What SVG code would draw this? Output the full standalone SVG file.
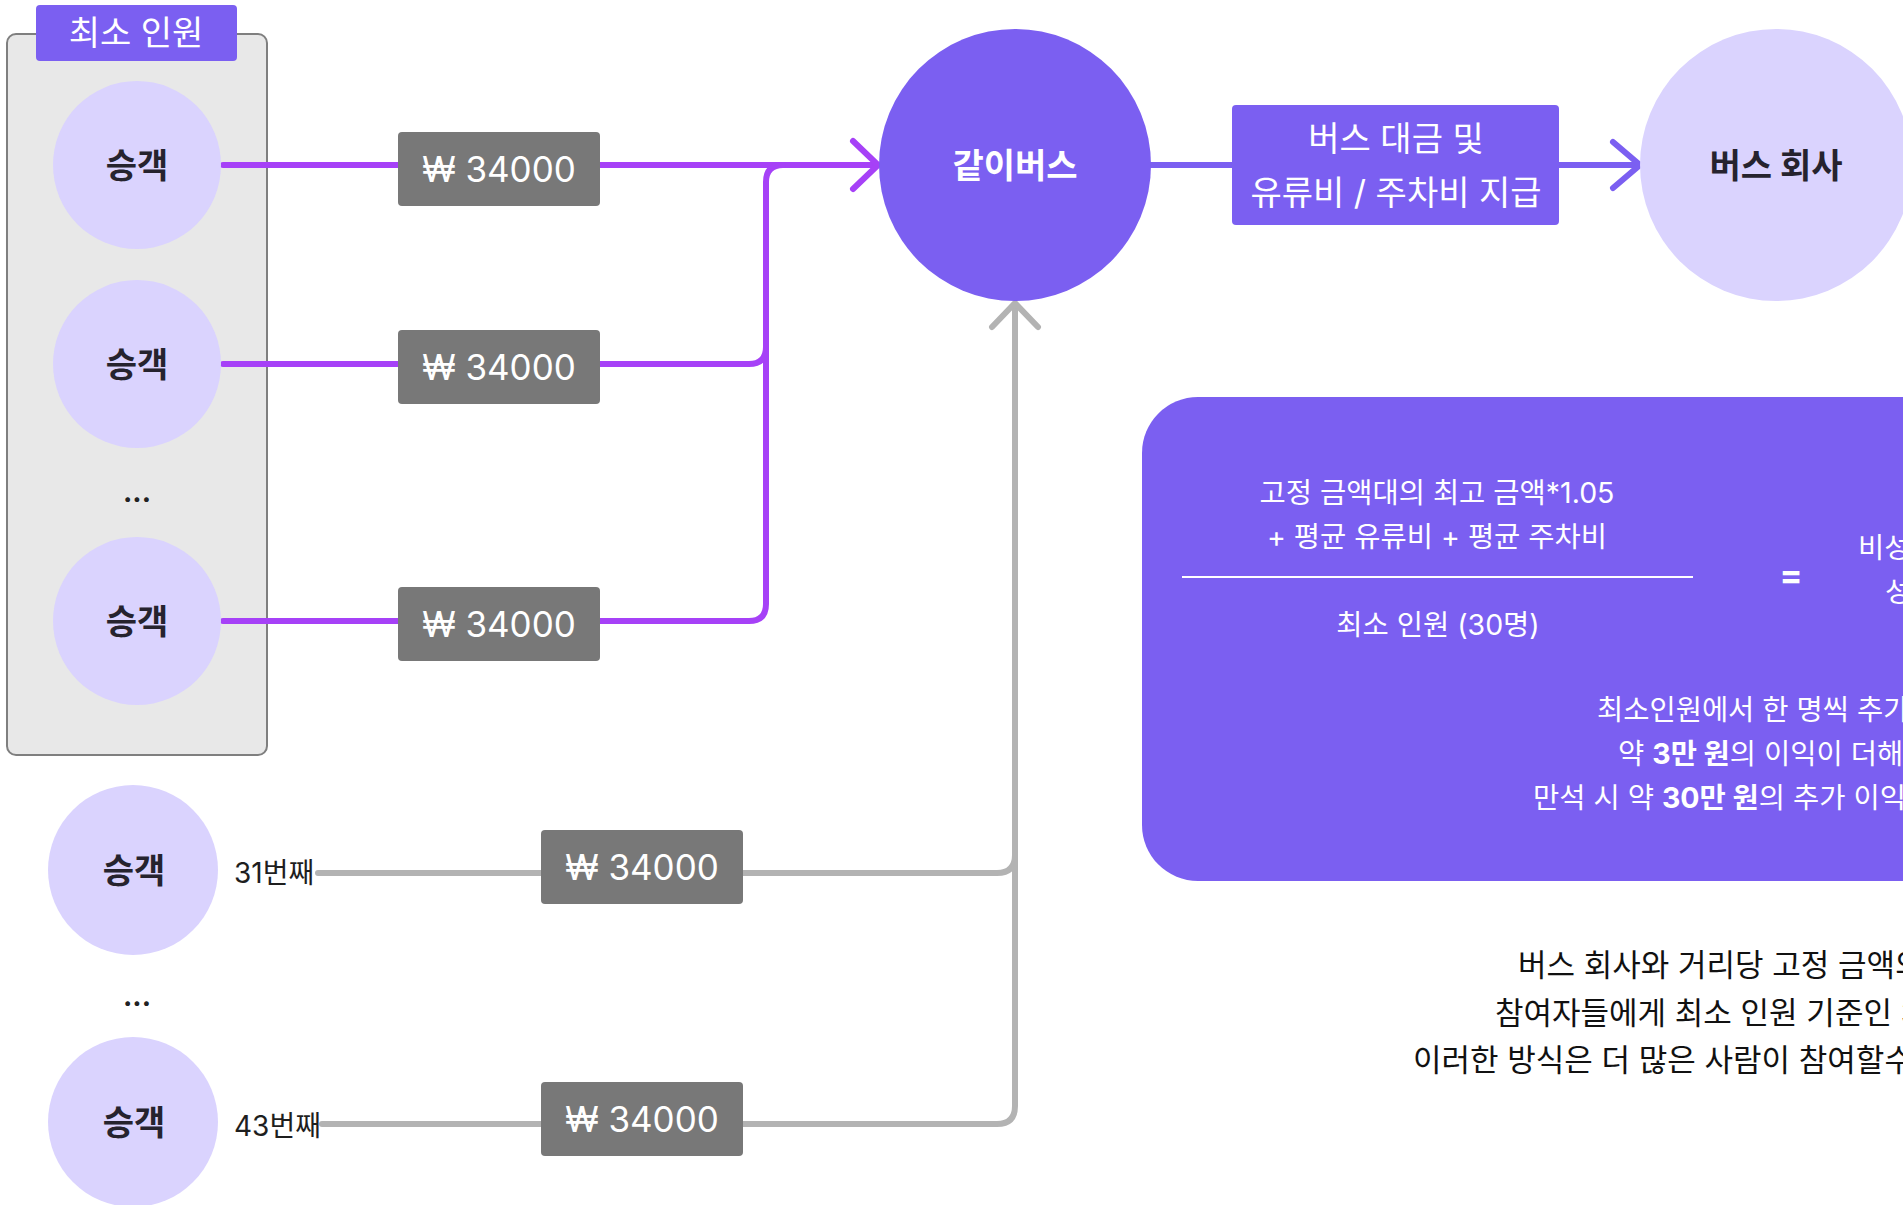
<svg xmlns="http://www.w3.org/2000/svg" width="1903" height="1205" viewBox="0 0 1903 1205">
<style>
  text { font-family: Inter, "Noto Sans CJK KR", sans-serif; }
  .pas { fill: #DAD3FE; }
  .pas-t { font-size: 34px; font-weight: 700; fill: #26232e; text-anchor: middle; }
  .price { fill: #787878; }
  .price-t { font-size: 35px; fill: #ffffff; text-anchor: middle; }
  .nth { font-size: 28px; fill: #1e1e1e; }
  .dots { font-size: 28px; font-weight: 700; fill: #222; text-anchor: middle; }
  .wt { fill: #ffffff; }
  .box-t { font-size: 28.5px; fill: #ffffff; }
  .para { font-size: 31px; fill: #111111; }
  .c-purple { fill: none; stroke: #A641F7; stroke-width: 6; stroke-linecap: round; stroke-linejoin: round; }
  .c-gray { fill: none; stroke: #B3B3B3; stroke-width: 6; stroke-linecap: round; stroke-linejoin: round; }
  .c-main { fill: none; stroke: #7B5FF1; stroke-width: 6; stroke-linecap: round; stroke-linejoin: round; }
</style>

<g id="group-min">
  <rect x="7" y="34" width="260" height="721" rx="9" fill="#E8E8E8" stroke="#7F7F7F" stroke-width="2"/>
  <rect x="36" y="5" width="201" height="56" rx="4" fill="#7B5FF1"/>
  <text x="136" y="45" class="wt" font-size="34" text-anchor="middle">최소 인원</text>
</g>

<g id="connectors">
  <path class="c-purple" d="M223 165 H876"/>
  <path class="c-purple" d="M853 141 L878 165 L853 189"/>
  <path class="c-purple" d="M223 364 H749 Q766 364 766 347"/>
  <path class="c-purple" d="M223 621 H749 Q766 621 766 604 V182 Q766 165 783 165"/>
  <path class="c-gray" d="M318 873 H997 Q1015 873 1015 855"/>
  <path class="c-gray" d="M322 1124 H997 Q1015 1124 1015 1106 V305"/>
  <path class="c-gray" d="M992 327 L1015 303 L1038 327"/>
  <path class="c-main" d="M1150 165 H1638"/>
  <path class="c-main" d="M1613 142 L1640 165 L1613 188"/>
</g>

<g id="passenger-1">
  <circle class="pas" cx="137" cy="165" r="84"/>
  <text class="pas-t" x="137" y="178">승객</text>
</g>
<g id="passenger-2">
  <circle class="pas" cx="137" cy="364" r="84"/>
  <text class="pas-t" x="137" y="377">승객</text>
</g>
<text id="dots-1" class="dots" x="137" y="502">...</text>
<g id="passenger-3">
  <circle class="pas" cx="137" cy="621" r="84"/>
  <text class="pas-t" x="137" y="634">승객</text>
</g>

<g id="price-1">
  <rect class="price" x="398" y="132" width="202" height="74" rx="4"/>
  <text class="price-t" x="499" y="182">₩ 34000</text>
</g>
<g id="price-2">
  <rect class="price" x="398" y="330" width="202" height="74" rx="4"/>
  <text class="price-t" x="499" y="380">₩ 34000</text>
</g>
<g id="price-3">
  <rect class="price" x="398" y="587" width="202" height="74" rx="4"/>
  <text class="price-t" x="499" y="637">₩ 34000</text>
</g>

<g id="passenger-31">
  <circle class="pas" cx="133" cy="870" r="85"/>
  <text class="pas-t" x="134" y="883">승객</text>
  <text class="nth" x="234" y="883">31번째</text>
</g>
<text id="dots-2" class="dots" x="137" y="1006">...</text>
<g id="passenger-43">
  <circle class="pas" cx="133" cy="1122" r="85"/>
  <text class="pas-t" x="134" y="1135">승객</text>
  <text class="nth" x="234" y="1136">43번째</text>
</g>

<g id="price-4">
  <rect class="price" x="541" y="830" width="202" height="74" rx="4"/>
  <text class="price-t" x="642" y="880">₩ 34000</text>
</g>
<g id="price-5">
  <rect class="price" x="541" y="1082" width="202" height="74" rx="4"/>
  <text class="price-t" x="642" y="1132">₩ 34000</text>
</g>

<g id="gatibus">
  <circle cx="1015" cy="165" r="136" fill="#7B5FF1"/>
  <text x="1015" y="178" font-size="34" font-weight="700" class="wt" text-anchor="middle">같이버스</text>
</g>

<g id="payment-label">
  <rect x="1232" y="105" width="327" height="120" rx="4" fill="#7B5FF1"/>
  <text x="1396" y="151" font-size="34" class="wt" text-anchor="middle">버스 대금 및</text>
  <text x="1396" y="205" font-size="34" class="wt" text-anchor="middle">유류비 / 주차비 지급</text>
</g>

<g id="bus-company">
  <circle cx="1776" cy="165" r="136" fill="#DAD3FE"/>
  <text x="1776" y="178" class="pas-t">버스 회사</text>
</g>

<g id="formula-box">
  <rect x="1142" y="397" width="820" height="484" rx="56" fill="#7B5FF1"/>
  <text class="box-t" x="1437" y="503" text-anchor="middle">고정 금액대의 최고 금액*1.05</text>
  <text class="box-t" x="1437" y="547" text-anchor="middle">+ 평균 유류비 + 평균 주차비</text>
  <line x1="1182" y1="577" x2="1693" y2="577" stroke="#ffffff" stroke-width="2"/>
  <text class="box-t" x="1438" y="635" text-anchor="middle">최소 인원 (30명)</text>
  <text x="1791" y="587" font-size="34" font-weight="700" class="wt" text-anchor="middle">=</text>
  <text class="box-t" x="1858" y="558">비성</text>
  <text class="box-t" x="1885" y="602">성</text>
  <text class="box-t" x="1597" y="720">최소인원에서 한 명씩 추가</text>
  <text class="box-t" x="1618" y="764">약 <tspan font-weight="700">3만 원</tspan>의 이익이 더해</text>
  <text class="box-t" x="1533" y="808">만석 시 약 <tspan font-weight="700">30만 원</tspan>의 추가 이익</text>
</g>

<g id="description">
  <text class="para" x="1518" y="976">버스 회사와 거리당 고정 금액의</text>
  <text class="para" x="1495" y="1024">참여자들에게 최소 인원 기준인 3</text>
  <text class="para" x="1413" y="1071">이러한 방식은 더 많은 사람이 참여할수</text>
</g>
</svg>
